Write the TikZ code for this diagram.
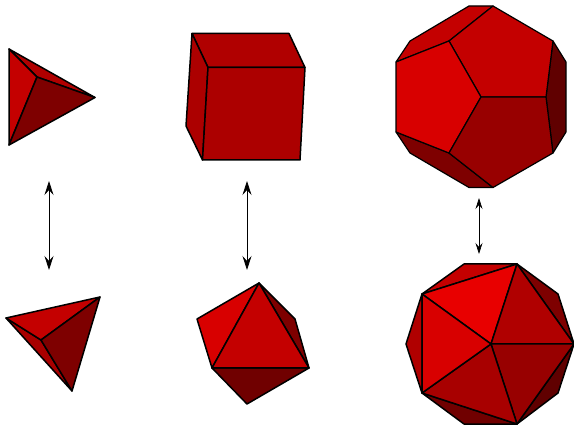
\documentclass[tikz,border=0pt]{standalone}
\usetikzlibrary{arrows.meta}
\definecolor{fa}{HTML}{E80000}
\definecolor{fb}{HTML}{D80000}
\definecolor{fc}{HTML}{C40000}
\definecolor{fd}{HTML}{B00000}
\definecolor{fe}{HTML}{A80000}
\definecolor{ff}{HTML}{980000}
\definecolor{fg}{HTML}{7E0000}
\definecolor{fh}{HTML}{700000}
\definecolor{fi}{HTML}{600000}
\definecolor{fj}{HTML}{AC0000}
\tikzset{
  face/.style={draw=black,line width=1.5pt,line join=round,fill=#1},
  bigface/.style={draw=black,line width=1.2pt,line join=round,fill=#1},
  dual/.style={draw=black,line width=0.8pt,{Stealth[length=14pt,width=9pt,inset=5pt]}-{Stealth[length=14pt,width=9pt,inset=5pt]}},
  dualsmall/.style={draw=black,line width=0.7pt,{Stealth[length=11pt,width=7pt,inset=4pt]}-{Stealth[length=11pt,width=7pt,inset=4pt]}}
}
\begin{document}
\begin{tikzpicture}[x=1pt,y=-1pt]
\useasboundingbox (0,0) rectangle (574,425);
% tetrahedron top
\coordinate (ta) at (9,49); \coordinate (tb) at (95,97.5); \coordinate (tc) at (9,145); \coordinate (td) at (37,77);
\draw[face=fd] (ta)--(tb)--(td)--cycle;
\draw[face=fc] (ta)--(td)--(tc)--cycle;
\draw[face=fg] (td)--(tb)--(tc)--cycle;
% tetrahedron bottom
\coordinate (sp) at (6,318); \coordinate (sq) at (100,297); \coordinate (sr) at (72,391); \coordinate (ss) at (41,340);
\draw[face=fe] (sp)--(ss)--(sr)--cycle;
\draw[face=fc] (sp)--(sq)--(ss)--cycle;
\draw[face=fg] (ss)--(sq)--(sr)--cycle;
% cube
\coordinate (c1) at (192,33.5); \coordinate (c2) at (289,33.5); \coordinate (c3) at (305,67.5); \coordinate (c4) at (208,67.5);
\coordinate (c5) at (202.5,160); \coordinate (c6) at (300,160); \coordinate (c7) at (186,126);
\draw[face=fd] (c1)--(c2)--(c3)--(c4)--cycle;
\draw[face=fj] (c1)--(c4)--(c5)--(c7)--cycle;
\draw[face=fj] (c4)--(c3)--(c6)--(c5)--cycle;
% octahedron
\coordinate (o1) at (259,283); \coordinate (o2) at (197,319); \coordinate (o3) at (212,368); \coordinate (o4) at (309,368); \coordinate (o5) at (295,319); \coordinate (o6) at (247,404);
\draw[face=fg] (o1)--(o5)--(o4)--cycle;
\draw[face=fh] (o3)--(o4)--(o6)--cycle;
\draw[face=fb] (o1)--(o2)--(o3)--cycle;
\draw[face=fc] (o1)--(o3)--(o4)--cycle;
% dodecahedron
\coordinate (d1) at (469,6); \coordinate (d2) at (493,6); \coordinate (d3) at (553,41); \coordinate (d4) at (566,62);
\coordinate (d5) at (566,132); \coordinate (d6) at (553,153); \coordinate (d7) at (493,187.5); \coordinate (d8) at (469,187.5);
\coordinate (d9) at (410,153); \coordinate (d10) at (396,132); \coordinate (d11) at (396,62); \coordinate (d12) at (410,41);
\coordinate (e1) at (449,41); \coordinate (e2) at (481,97); \coordinate (e3) at (546,97); \coordinate (e4) at (449,153);
\draw[bigface=fc] (d1)--(d2)--(e1)--(d11)--(d12)--cycle;
\draw[bigface=fi] (d3)--(d4)--(d5)--(d6)--(e3)--cycle;
\draw[bigface=fg] (d10)--(e4)--(d7)--(d8)--(d9)--cycle;
\draw[bigface=fc] (d2)--(d3)--(e3)--(e2)--(e1)--cycle;
\draw[bigface=fb] (d11)--(e1)--(e2)--(e4)--(d10)--cycle;
\draw[bigface=ff] (e2)--(e3)--(d6)--(d7)--(e4)--cycle;
% icosahedron
\coordinate (i0) at (491,344);
\coordinate (ia) at (422,294); \coordinate (ib) at (517,264); \coordinate (ic) at (574,344); \coordinate (id) at (517,424); \coordinate (ie) at (422,393);
\coordinate (oa) at (464,264); \coordinate (ob) at (558,294); \coordinate (oc) at (558,393); \coordinate (od) at (464,424); \coordinate (oe) at (406,344);
\draw[face=fc] (ia)--(oa)--(ib)--cycle;
\draw[face=fg] (ib)--(ob)--(ic)--cycle;
\draw[face=fi] (ic)--(oc)--(id)--cycle;
\draw[face=fh] (id)--(od)--(ie)--cycle;
\draw[face=fd] (ie)--(oe)--(ia)--cycle;
\draw[face=fa] (ia)--(ib)--(i0)--cycle;
\draw[face=fd] (ib)--(ic)--(i0)--cycle;
\draw[face=ff] (ic)--(id)--(i0)--cycle;
\draw[face=fe] (id)--(ie)--(i0)--cycle;
\draw[face=fb] (ie)--(ia)--(i0)--cycle;
% arrows
\coordinate (a1) at (49,181); \coordinate (a2) at (49,270);
\coordinate (b1) at (247,181); \coordinate (b2) at (247,270);
\coordinate (g1) at (479,198); \coordinate (g2) at (479,254);
\draw[dual] (a1)--(a2);
\draw[dual] (b1)--(b2);
\draw[dualsmall] (g1)--(g2);
\end{tikzpicture}
\end{document}
